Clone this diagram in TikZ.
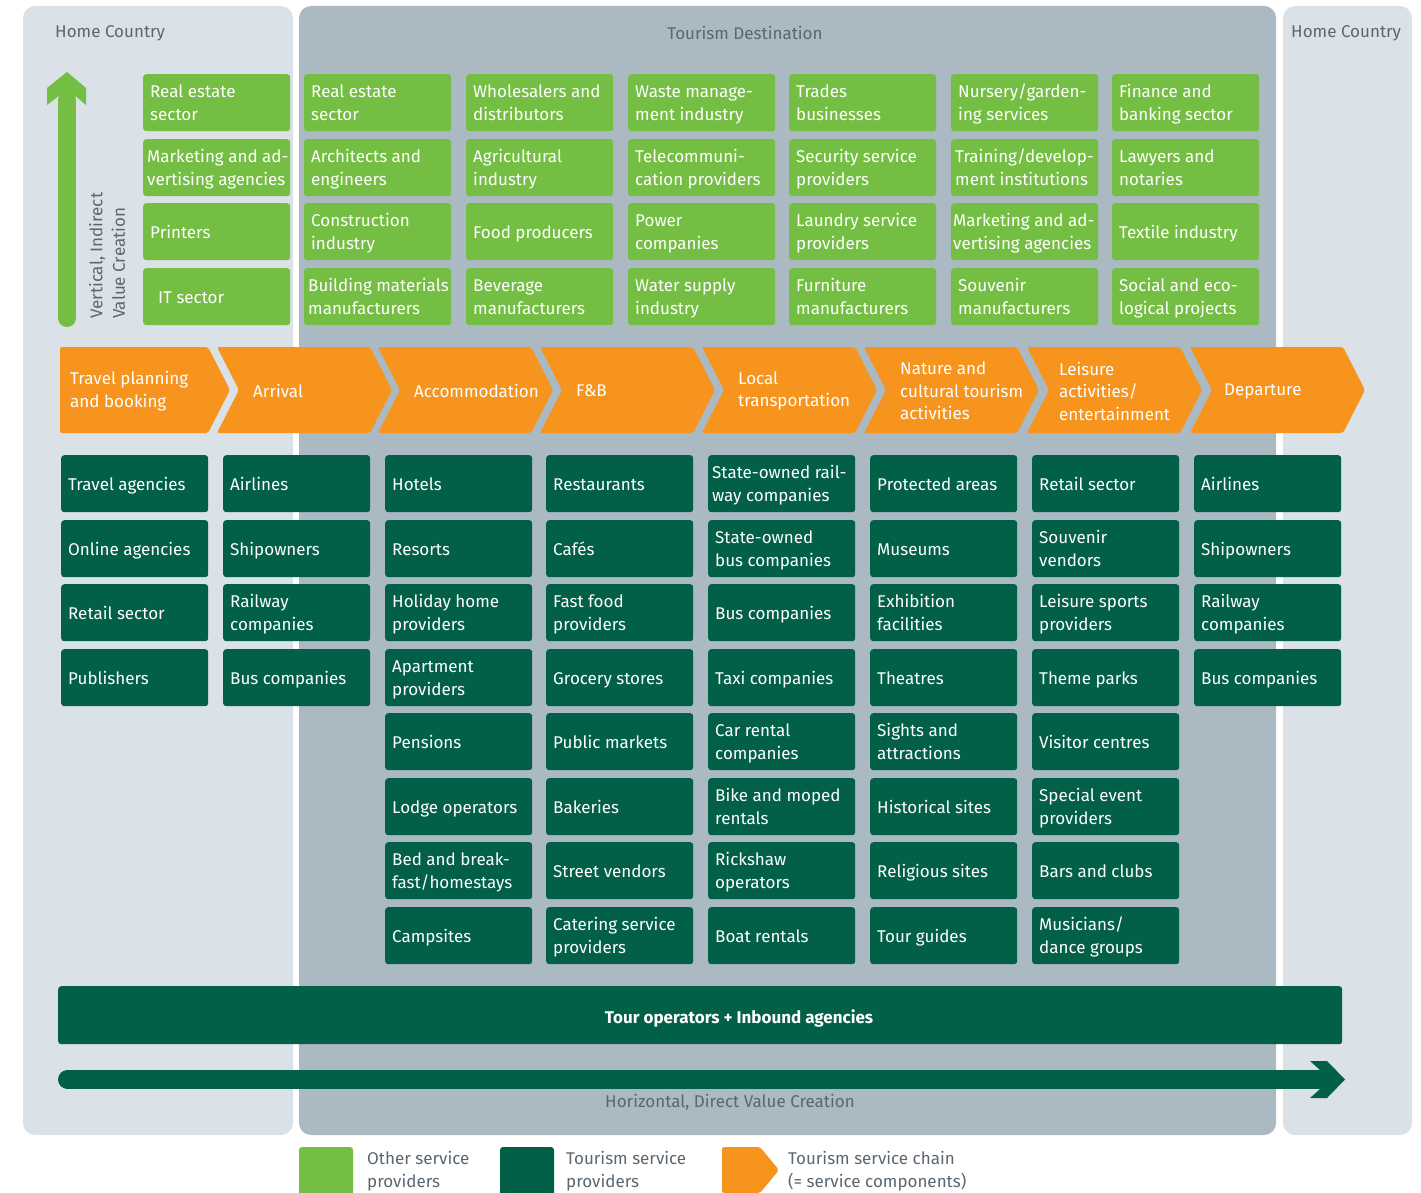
\documentclass[tikz,border=0pt]{standalone}
\usepackage{fontspec}
\setmainfont{Fira Sans}
\definecolor{panellight}{HTML}{DAE1E7}
\definecolor{panelmid}{HTML}{ABB9C2}
\definecolor{lgreen}{HTML}{74BF43}
\definecolor{dgreen}{HTML}{025F48}
\definecolor{orng}{HTML}{F7941E}
\definecolor{titlegrey}{HTML}{5A6670}
\tikzset{
  panel/.style={fill=#1, rounded corners=12pt},
  boxbase/.style={rounded corners=3pt, text=white, anchor=north west,
    minimum width=147pt, minimum height=57pt,
    inner xsep=7pt, inner ysep=0pt,
    font=\fontsize{17}{22.5}\selectfont},
  gbox/.style={boxbase, fill=lgreen},
  dbox/.style={boxbase, fill=dgreen},
  chevtext/.style={text=white, anchor=west, align=left, inner sep=0pt,
    font=\fontsize{17}{22.5}\selectfont},
  titletext/.style={text=titlegrey, inner sep=0pt, font=\fontsize{17}{22.5}\selectfont},
  legtext/.style={text=titlegrey, anchor=west, align=left, inner sep=0pt,
    font=\fontsize{17}{23}\selectfont},
}
\newcommand\boxtext[1]{\raisebox{-2pt}[\height][\depth]{\makebox[133pt][l]{\begin{tabular}{@{}l@{}}#1\end{tabular}}}}
\newcommand\gbx[4]{\node[gbox] (#1) at (#2,#3) {\boxtext{#4}};}
\newcommand\dbx[4]{\node[dbox] (#1) at (#2,#3) {\boxtext{#4}};}
\newcommand\chevshape[1]{\fill[orng, rounded corners=2pt] (#1,347) -- (#1+153,347) -- (#1+175,390) -- (#1+153,433) -- (#1,433) -- (#1+22,390) -- cycle;}
\begin{document}
\begin{tikzpicture}[x=1pt,y=-1pt]
\useasboundingbox (0,0) rectangle (1421,1193);
\clip (0,0) rectangle (1421,1193);
% panels
\fill[panel=panellight] (23,6) rectangle (293,1135);
\fill[panel=panelmid] (299,6) rectangle (1276,1135);
\fill[panel=panellight] (1283,6) rectangle (1412,1135);
\node[titletext, anchor=west] (hcl) at (55,33) {Home Country};
\node[titletext] (td) at (745,33) {Tourism Destination};
\node[titletext, anchor=west] (hcr) at (1291,33) {Home Country};
% vertical arrow
\draw[lgreen, line width=18pt, line cap=round] (67,318) -- (67,100);
\fill[lgreen] (58,96.5) -- (47,105) -- (47,88) -- (67,72) -- (86,88) -- (86,105) -- (76,96.5) -- cycle;
\node[titletext, rotate=90, anchor=north west, align=left] (vtext) at (89,319) {Vertical, Indirect\\Value Creation};
% green boxes
\gbx{g00}{143}{74}{Real estate\\sector}
\gbx{g01}{143}{139}{\hspace*{-3pt}Marketing and ad-\\\hspace*{-3pt}vertising agencies}
\gbx{g02}{143}{203}{Printers}
\gbx{g03}{143}{268}{\hspace*{8pt}IT sector}
\gbx{g10}{304}{74}{Real estate\\sector}
\gbx{g11}{304}{139}{Architects and\\engineers}
\gbx{g12}{304}{203}{Construction\\industry}
\gbx{g13}{304}{268}{\hspace*{-3pt}Building materials\\\hspace*{-3pt}manufacturers}
\gbx{g20}{466}{74}{Wholesalers and\\distributors}
\gbx{g21}{466}{139}{Agricultural\\industry}
\gbx{g22}{466}{203}{Food producers}
\gbx{g23}{466}{268}{Beverage\\manufacturers}
\gbx{g30}{628}{74}{Waste manage-\\ment industry}
\gbx{g31}{628}{139}{Telecommuni-\\cation providers}
\gbx{g32}{628}{203}{Power\\companies}
\gbx{g33}{628}{268}{Water supply\\industry}
\gbx{g40}{789}{74}{Trades\\businesses}
\gbx{g41}{789}{139}{Security service\\providers}
\gbx{g42}{789}{203}{Laundry service\\providers}
\gbx{g43}{789}{268}{Furniture\\manufacturers}
\gbx{g50}{951}{74}{Nursery/garden-\\ing services}
\gbx{g51}{951}{139}{\hspace*{-3pt}Training/develop-\\\hspace*{-3pt}ment institutions}
\gbx{g52}{951}{203}{\hspace*{-5pt}Marketing and ad-\\\hspace*{-5pt}vertising agencies}
\gbx{g53}{951}{268}{Souvenir\\manufacturers}
\gbx{g60}{1112}{74}{Finance and\\banking sector}
\gbx{g61}{1112}{139}{Lawyers and\\notaries}
\gbx{g62}{1112}{203}{Textile industry}
\gbx{g63}{1112}{268}{Social and eco-\\logical projects}
% chevrons
\fill[orng, rounded corners=2pt] (60,347) -- (208,347) -- (230,390) -- (208,433) -- (60,433) -- cycle;
\chevshape{217}
\chevshape{378}
\chevshape{540}
\chevshape{702}
\chevshape{864}
\chevshape{1027}
\chevshape{1190}
\node[chevtext] (c1) at (70,391) {Travel planning\\and booking};
\node[chevtext] (c2) at (253,391) {Arrival};
\node[chevtext] (c3) at (414,391) {Accommodation};
\node[chevtext] (c4) at (576,391) {F\&B};
\node[chevtext] (c5) at (738,391) {Local\\transportation};
\node[chevtext] (c6) at (900,391) {Nature and\\cultural tourism\\activities};
\node[chevtext] (c7) at (1059,391) {Leisure\\activities/\\entertainment};
\node[chevtext] (c8) at (1224,391) {Departure};
% dark boxes
\dbx{d00}{61}{455}{Travel agencies}
\dbx{d01}{61}{520}{Online agencies}
\dbx{d02}{61}{584}{Retail sector}
\dbx{d03}{61}{649}{Publishers}
\dbx{d10}{223}{455}{Airlines}
\dbx{d11}{223}{520}{Shipowners}
\dbx{d12}{223}{584}{Railway\\companies}
\dbx{d13}{223}{649}{Bus companies}
\dbx{d20}{385}{455}{Hotels}
\dbx{d21}{385}{520}{Resorts}
\dbx{d22}{385}{584}{Holiday home\\providers}
\dbx{d23}{385}{649}{Apartment\\providers}
\dbx{d24}{385}{713}{Pensions}
\dbx{d25}{385}{778}{Lodge operators}
\dbx{d26}{385}{842}{Bed and break-\\fast/homestays}
\dbx{d27}{385}{907}{Campsites}
\dbx{d30}{546}{455}{Restaurants}
\dbx{d31}{546}{520}{Cafés}
\dbx{d32}{546}{584}{Fast food\\providers}
\dbx{d33}{546}{649}{Grocery stores}
\dbx{d34}{546}{713}{Public markets}
\dbx{d35}{546}{778}{Bakeries}
\dbx{d36}{546}{842}{Street vendors}
\dbx{d37}{546}{907}{Catering service\\providers}
\dbx{d40}{708}{455}{\hspace*{-3pt}State-owned rail-\\\hspace*{-3pt}way companies}
\dbx{d41}{708}{520}{State-owned\\bus companies}
\dbx{d42}{708}{584}{Bus companies}
\dbx{d43}{708}{649}{Taxi companies}
\dbx{d44}{708}{713}{Car rental\\companies}
\dbx{d45}{708}{778}{Bike and moped\\rentals}
\dbx{d46}{708}{842}{Rickshaw\\operators}
\dbx{d47}{708}{907}{Boat rentals}
\dbx{d50}{870}{455}{Protected areas}
\dbx{d51}{870}{520}{Museums}
\dbx{d52}{870}{584}{Exhibition\\facilities}
\dbx{d53}{870}{649}{Theatres}
\dbx{d54}{870}{713}{Sights and\\attractions}
\dbx{d55}{870}{778}{Historical sites}
\dbx{d56}{870}{842}{Religious sites}
\dbx{d57}{870}{907}{Tour guides}
\dbx{d60}{1032}{455}{Retail sector}
\dbx{d61}{1032}{520}{Souvenir\\vendors}
\dbx{d62}{1032}{584}{Leisure sports\\providers}
\dbx{d63}{1032}{649}{Theme parks}
\dbx{d64}{1032}{713}{Visitor centres}
\dbx{d65}{1032}{778}{Special event\\providers}
\dbx{d66}{1032}{842}{Bars and clubs}
\dbx{d67}{1032}{907}{Musicians/\\dance groups}
\dbx{d70}{1194}{455}{Airlines}
\dbx{d71}{1194}{520}{Shipowners}
\dbx{d72}{1194}{584}{Railway\\companies}
\dbx{d73}{1194}{649}{Bus companies}
% tour operators bar
\node[fill=dgreen, rounded corners=3pt, anchor=north west, minimum width=1284pt, minimum height=58pt, inner sep=0pt] (tour) at (58,986) {};
\node[text=white, inner sep=0pt, font=\fontsize{17}{22}\selectfont\bfseries] (tourtext) at (739,1018) {Tour operators + Inbound agencies};
% horizontal arrow
\draw[dgreen, line width=19pt, line cap=round] (67.5,1079.5) -- (1322,1079.5);
\fill[dgreen] (1320,1070) -- (1310,1061) -- (1327,1061) -- (1345,1079.5) -- (1327,1098) -- (1310,1098) -- (1320,1089) -- cycle;
\node[titletext] (htext) at (730,1102) {Horizontal, Direct Value Creation};
% legend
\fill[lgreen, rounded corners=3pt] (299,1147) rectangle (353,1200);
\node[legtext] (l1) at (367,1171) {Other service\\providers};
\fill[dgreen, rounded corners=3pt] (500,1147) rectangle (554,1200);
\node[legtext] (l2) at (566,1171) {Tourism service\\providers};
\fill[orng, rounded corners=2pt] (722,1147) -- (760,1147) -- (779,1170) -- (760,1193) -- (722,1193) -- cycle;
\node[legtext] (l3) at (788,1171) {Tourism service chain\\(= service components)};
\end{tikzpicture}
\end{document}
